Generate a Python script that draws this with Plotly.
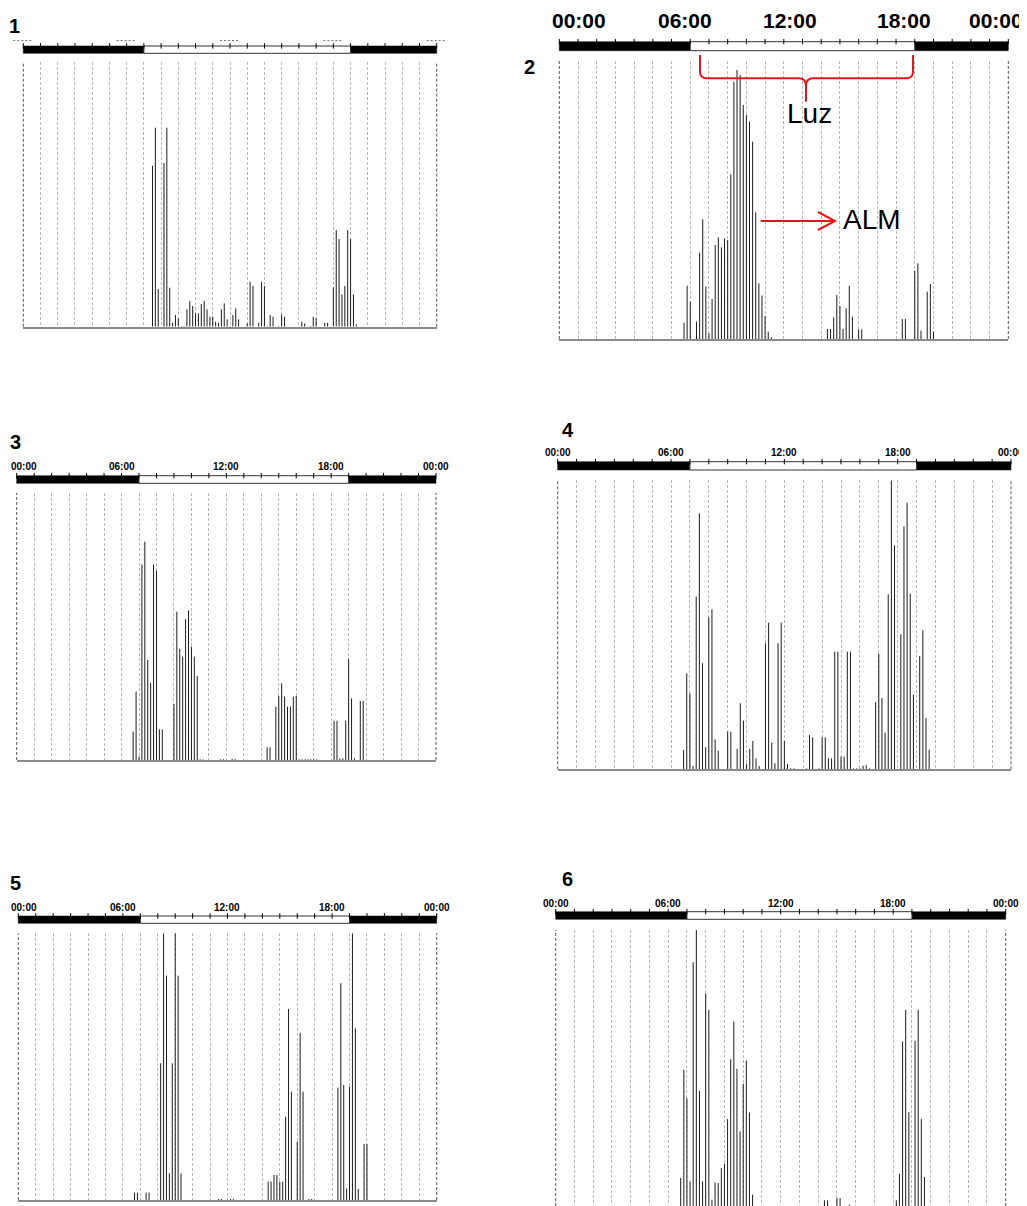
import plotly.graph_objects as go

# page body has an 8px margin: the figure is drawn 8px in from the top-left corner
OFF = 8
W, H = 1027 - OFF, 1206 - OFF

# ---------------- data ----------------
LIGHT_ON, LIGHT_OFF = 7, 19          # hours of lights on / off
label_hours = [0, 6, 12, 18, 24]
hour_labels = ["00:00", "06:00", "12:00", "18:00", "00:00"]
panel_names = ["1", "2", "3", "4", "5", "6"]

# activity counts per 10-minute bin (bin index = minutes since 00:00 / 10)
p1_bin = [45, 46, 47, 49, 50, 51, 52, 53, 54, 55, 56, 57, 58, 59, 60, 61, 62, 63, 64, 65, 66, 67, 68,
          69, 70, 71, 72, 73, 74, 75, 78, 79, 80, 82, 83, 84, 85, 86, 87, 89, 90, 91, 97, 98, 100,
          101, 102, 105, 106, 108, 109, 110, 111, 112, 113, 114, 115, 116]
p1_act = [483, 597, 113, 491, 597, 117, 12, 35, 25, 2, 2, 52, 77, 62, 40, 40, 68, 77, 52, 30, 30, 15, 12,
          52, 70, 22, 2, 35, 55, 22, 10, 135, 122, 12, 135, 122, 2, 35, 30, 2, 37, 30, 15, 10, 2,
          30, 25, 12, 12, 118, 290, 263, 97, 122, 290, 263, 97, 7]

p2_bin = [40, 41, 42, 44, 45, 46, 47, 48, 49, 50, 51, 52, 53, 54, 55, 56, 57, 58, 59, 60, 61, 62, 63,
          64, 65, 66, 67, 68, 86, 87, 88, 89, 90, 91, 92, 93, 94, 96, 97, 110, 111, 114, 115, 116,
          118, 119, 120]
p2_act = [49, 160, 112, 52, 259, 359, 157, 17, 120, 282, 305, 275, 302, 297, 494, 772, 807, 792, 702,
          672, 652, 592, 380, 167, 130, 69, 22, 5, 30, 30, 65, 132, 99, 30, 92, 160, 67, 29, 29, 60,
          60, 205, 227, 25, 142, 165, 22]

p3_bin = [40, 41, 42, 43, 44, 45, 46, 47, 48, 49, 50, 54, 55, 56, 57, 58, 59, 60, 61, 62, 63, 64, 70,
          71, 74, 75, 86, 87, 89, 90, 91, 92, 93, 94, 95, 96, 97, 98, 99, 100, 101, 102, 103, 109,
          110, 111, 112, 113, 114, 115, 116, 118, 119]
p3_act = [85, 205, 10, 587, 655, 300, 232, 587, 568, 92, 92, 168, 445, 333, 310, 423, 449, 340, 310,
          252, 2, 2, 2, 2, 3, 3, 38, 38, 160, 192, 230, 190, 160, 160, 190, 192, 2, 2, 2, 2, 2, 2, 2,
          118, 118, 5, 5, 118, 302, 185, 5, 177, 177]

p4_bin = [40, 41, 42, 43, 44, 45, 46, 47, 48, 49, 50, 51, 54, 55, 57, 58, 59, 60, 61, 62, 63, 64, 66,
          67, 68, 69, 70, 71, 72, 73, 74, 75, 79, 80, 81, 83, 84, 85, 86, 87, 88, 89, 90, 91, 92, 93,
          94, 95, 96, 97, 98, 99, 101, 102, 103, 104, 105, 106, 107, 109, 110, 111, 112, 113, 115,
          116, 117, 118]
p4_act = [58, 288, 228, 10, 518, 768, 318, 66, 456, 480, 90, 56, 113, 113, 61, 198, 146, 16, 61, 85, 33,
          10, 378, 440, 80, 18, 378, 440, 85, 16, 3, 3, 3, 103, 96, 3, 96, 96, 33, 33, 353, 353, 38,
          38, 353, 353, 3, 3, 3, 11, 13, 3, 202, 347, 214, 110, 525, 866, 672, 405, 729, 800, 527,
          224, 340, 417, 154, 59]

p5_bin = [40, 41, 44, 45, 49, 50, 51, 52, 53, 54, 55, 56, 69, 70, 73, 74, 86, 87, 88, 89, 90, 91, 92,
          93, 94, 96, 97, 98, 100, 101, 110, 111, 112, 113, 114, 115, 116, 117, 119, 120]
p5_act = [22, 22, 22, 22, 410, 800, 673, 80, 410, 800, 673, 80, 3, 3, 3, 3, 55, 55, 75, 75, 55, 55, 250,
          573, 325, 175, 502, 325, 3, 3, 337, 650, 345, 35, 340, 800, 515, 33, 168, 168]

p6_bin = [40, 41, 42, 43, 44, 45, 46, 47, 48, 49, 50, 51, 52, 53, 54, 55, 56, 57, 58, 59, 60, 61, 62,
          63, 86, 87, 90, 91, 94, 109, 110, 111, 112, 113, 115, 116, 117, 118]
p6_act = [123, 448, 363, 113, 771, 868, 385, 113, 678, 628, 58, 110, 108, 153, 166, 300, 480, 593, 451,
          263, 406, 476, 320, 73, 56, 56, 63, 63, 43, 56, 136, 533, 628, 321, 535, 628, 300, 126]

series = [(p1_bin, p1_act), (p2_bin, p2_act), (p3_bin, p3_act),
          (p4_bin, p4_act), (p5_bin, p5_act), (p6_bin, p6_act)]

# ---------------- layout geometry (window pixels) ----------------
geom = [
    dict(x0=23.3, x1=436.7, top=61.7, bot=326.7, yr=[0, 795], hb=(46.0, 53.3), lab="frag", laby=40.5,
         num=(14.7, 26.3), line=True),
    dict(x0=559.3, x1=1008.3, top=61.0, bot=339.0, yr=[0, 834], hb=(41.7, 50.7), lab="big", laby=8.3,
         num=(529.5, 66.7), line=True),
    dict(x0=16.7, x1=436.0, top=492.7, bot=760.0, yr=[0, 802], hb=(475.7, 483.3), lab="small", laby=466.8,
         num=(15.0, 441.7), line=True),
    dict(x0=557.7, x1=1011.0, top=480.0, bot=769.3, yr=[0, 868], hb=(461.7, 470.0), lab="small", laby=452.3,
         num=(567.8, 430.3), line=True),
    dict(x0=18.3, x1=436.7, top=933.3, bot=1200.0, yr=[0, 800], hb=(916.0, 923.3), lab="small", laby=907.5,
         num=(15.0, 882.5), line=True),
    dict(x0=555.7, x1=1005.7, top=930.0, bot=1206.0, yr=[39, 868], hb=(911.7, 919.3), lab="small", laby=903.0,
         num=(567.8, 879.2), line=False),
]
big_label_px = [579.2, 685.2, 789.5, 903.8, 995.5]

FONT = "Arial, Liberation Sans, Helvetica, sans-serif"


def px(x):
    return (x - OFF) / W


def py(y):
    return 1 - (y - OFF) / H


fig = go.Figure()
shapes = []
annotations = []

for i, ((bins, acts), g) in enumerate(zip(series, geom)):
    n = i + 1
    xa = "x" if n == 1 else f"x{n}"
    ya = "y" if n == 1 else f"y{n}"
    xs, ys = [], []
    for b, a in zip(bins, acts):
        t = b / 6.0
        xs += [t, t, None]
        ys += [0, a, None]
    fig.add_trace(go.Scatter(x=xs, y=ys, mode="lines", xaxis=xa, yaxis=ya,
                             line=dict(color="#1c1c1c", width=1),
                             hoverinfo="skip", showlegend=False))

    fig.layout[f"xaxis{'' if n == 1 else n}"] = dict(
        domain=[px(g["x0"]), px(g["x1"])], range=[0, 24], anchor=ya,
        showgrid=True, dtick=1, tick0=0, gridcolor="#b8b8b8", griddash="3px,2px", gridwidth=1,
        zeroline=False, showticklabels=False, ticks="",
        showline=g["line"], linecolor="#8a8a8a", linewidth=1.5, fixedrange=True)
    fig.layout[f"yaxis{'' if n == 1 else n}"] = dict(
        domain=[max(0.0, py(g["bot"])), py(g["top"])], range=g["yr"], anchor=xa,
        showgrid=False, zeroline=False, showticklabels=False, ticks="", showline=False,
        fixedrange=True)

    def hxp(h, g=g):
        return g["x0"] + h * (g["x1"] - g["x0"]) / 24.0

    def hx(h, g=g):
        return px(hxp(h, g))

    # dark dashed edges of the plot area
    for h in (0, 24):
        shapes.append(dict(type="line", xref="paper", yref=f"{ya} domain",
                           x0=hx(h), x1=hx(h), y0=0, y1=1,
                           line=dict(color="#555555", width=1, dash="3px,2px")))

    # light / dark bar
    hb0, hb1 = g["hb"]
    for a, b in ((0, LIGHT_ON), (LIGHT_OFF, 24)):
        shapes.append(dict(type="rect", xref="paper", yref="paper",
                           x0=hx(a), x1=hx(b), y0=py(hb1), y1=py(hb0),
                           fillcolor="#000000", line=dict(color="#000000", width=0.5)))
    shapes.append(dict(type="rect", xref="paper", yref="paper",
                       x0=hx(LIGHT_ON), x1=hx(LIGHT_OFF), y0=py(hb1), y1=py(hb0),
                       fillcolor="#ffffff", line=dict(color="#333333", width=1)))
    for h in range(25):
        shapes.append(dict(type="line", xref="paper", yref="paper",
                           x0=hx(h), x1=hx(h), y0=py(hb0 + 2.6), y1=py(hb0 - 2.8),
                           line=dict(color="#000000", width=1)))

    # hour labels
    if g["lab"] == "small":
        for h, t in zip(label_hours, hour_labels):
            cx = hxp(h)
            if cx - 13 < OFF + 0.5:      # keep the leftmost label inside the page
                ax_, anc = OFF + 0.5, "left"
            else:
                ax_, anc = cx, "center"
            annotations.append(dict(text=f"<b>{t}</b>", xref="paper", yref="paper",
                                    x=px(ax_), y=py(g["laby"]), xanchor=anc, yanchor="middle",
                                    showarrow=False, font=dict(family=FONT, size=10, color="#000")))
    elif g["lab"] == "big":
        for xp, t in zip(big_label_px, hour_labels):
            annotations.append(dict(text=f"<b>{t}</b>", xref="paper", yref="paper",
                                    x=px(xp), y=py(g["laby"]), xanchor="center", yanchor="top",
                                    borderpad=0,
                                    showarrow=False, font=dict(family=FONT, size=21, color="#000")))
    else:  # clipped labels: only the bottom fragments remain visible
        for h in label_hours:
            shapes.append(dict(type="line", xref="paper", yref="paper",
                               x0=hx(h) - 10 / W, x1=hx(h) + 10 / W,
                               y0=py(g["laby"]), y1=py(g["laby"]),
                               line=dict(color="#777777", width=1, dash="2px,2px")))

    # panel number
    annotations.append(dict(text=f"<b>{panel_names[i]}</b>", xref="paper", yref="paper",
                            x=px(g["num"][0]), y=py(g["num"][1]), xanchor="center", yanchor="middle",
                            showarrow=False, font=dict(family=FONT, size=20, color="#000")))

# ---------------- red annotations on panel 2 ----------------
RED = "#e5171c"


def P(x, y):
    return f"{px(x):.5f},{py(y):.5f}"


brace = ("M " + P(700, 55) + " L " + P(700, 72) + " Q " + P(700, 78.3) + " " + P(707, 78.3) +
         " L " + P(799, 78.3) + " Q " + P(806, 78.3) + " " + P(806, 86) + " L " + P(806, 101.7) +
         " M " + P(806, 86) + " Q " + P(806, 78.3) + " " + P(813, 78.3) +
         " L " + P(906, 78.3) + " Q " + P(913, 78.3) + " " + P(913, 72) + " L " + P(913, 55))
shapes.append(dict(type="path", xref="paper", yref="paper", path=brace,
                   line=dict(color=RED, width=2)))
shapes.append(dict(type="line", xref="paper", yref="paper",
                   x0=px(760.7), x1=px(834), y0=py(221), y1=py(221), line=dict(color=RED, width=2)))
arrow_head = "M " + P(818, 212) + " L " + P(835, 221) + " L " + P(818, 230)
shapes.append(dict(type="path", xref="paper", yref="paper", path=arrow_head,
                   line=dict(color=RED, width=2)))

annotations.append(dict(text="Luz", xref="paper", yref="paper", x=px(809.5), y=py(113.5),
                        xanchor="center", yanchor="middle", showarrow=False,
                        font=dict(family=FONT, size=28, color="#000")))
annotations.append(dict(text="ALM", xref="paper", yref="paper", x=px(840.5), y=py(219.5),
                        xanchor="left", yanchor="middle", showarrow=False,
                        font=dict(family=FONT, size=28, color="#000")))

fig.update_layout(width=W, height=H, margin=dict(l=0, r=0, t=0, b=0),
                  paper_bgcolor="#ffffff", plot_bgcolor="#ffffff",
                  shapes=shapes, annotations=annotations, showlegend=False)

fig.write_html("out.html")
